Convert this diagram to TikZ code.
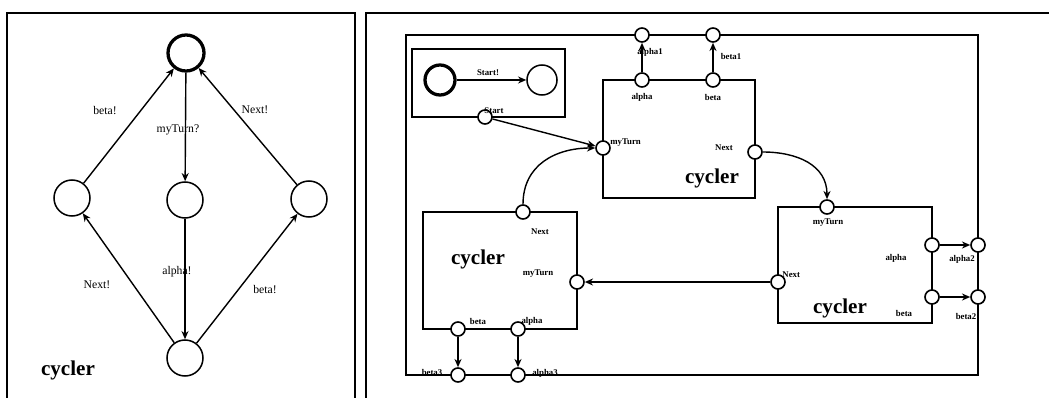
\documentclass[tikz,border=0pt]{standalone}
\usepackage{fontspec}
\setmainfont{Liberation Serif}
\usetikzlibrary{arrows.meta}

\begin{document}
\begin{tikzpicture}[
  x=0.03cm, y=-0.03cm,
  frame/.style={line width=1.6pt},
  box/.style={line width=2.2pt},
  arr/.style={-{Stealth[length=7pt,width=6pt]}, line width=1.2pt},
  state/.style={circle, draw, line width=1.3pt, minimum size=1.08cm, inner sep=0pt},
  initstate/.style={state, line width=2.8pt},
  smallstate/.style={state, minimum size=0.9cm},
  port/.style={circle, draw, fill=white, line width=1.4pt, minimum size=0.42cm, inner sep=0pt},
  edgelbl/.style={font=\fontsize{10}{11}\selectfont},
  plabel/.style={font=\fontsize{7.5}{8}\selectfont\bfseries, inner sep=1pt},
  bigname/.style={font=\fontsize{18}{20}\selectfont\bfseries}
]
\useasboundingbox (0,0) rectangle (1049,398);

% ------------------------------------------------------------
% Left panel: the cycler automaton
% ------------------------------------------------------------
\draw[frame] (7,398) -- (7,13) -- (355,13) -- (355,398);

\node[initstate] (top) at (186,53) {};
\node[state] (lft) at (72,198) {};
\node[state] (mid) at (185,200) {};
\node[state] (rgt) at (309,199) {};
\node[state] (bot) at (185,358) {};

\draw[arr] (lft) -- (top);
\draw[arr] (top) -- (mid);
\draw[arr] (rgt) -- (top);
\draw[arr] (mid) -- (bot);
\draw[arr] (bot) -- (lft);
\draw[arr] (bot) -- (rgt);

\node[edgelbl] at (105,111) {beta!};
\node[edgelbl] at (178,130) {myTurn?};
\node[edgelbl] at (255,110) {Next!};
\node[edgelbl] at (97,285) {Next!};
\node[edgelbl] at (177,272) {alpha!};
\node[edgelbl] at (265,290) {beta!};
\node[bigname] at (68,370) {cycler};

% ------------------------------------------------------------
% Right panel: three cyclers in a ring
% ------------------------------------------------------------
\draw[frame] (366,398) -- (366,13) -- (1049,13);
\draw[box] (406,35) rectangle (978,375);

% start box
\draw[box] (412,49) rectangle (565,117);
\node[initstate, minimum size=0.9cm] (s0) at (440,80) {};
\node[smallstate] (s1) at (542,80) {};
\draw[arr] (s0) -- (s1);
\node[plabel] at (488,73) {Start!};

% top cycler
\draw[box] (603,80) rectangle (755,198);
\node[bigname] at (712,178) {cycler};

% left cycler
\draw[box] (423,212) rectangle (577,329);
\node[bigname] at (478,259) {cycler};

% right cycler
\draw[box] (778,207) rectangle (932,323);
\node[bigname] at (840,308) {cycler};

% ports
\node[port] (st) at (485,117) {};
\node[port] (tA) at (642,80) {};
\node[port] (tB) at (713,80) {};
\node[port] (tM) at (603,148) {};
\node[port] (tN) at (755,152) {};
\node[port] (a1) at (642,35) {};
\node[port] (b1) at (713,35) {};

\node[port] (lN) at (523,212) {};
\node[port] (lM) at (577,282) {};
\node[port] (lB) at (458,329) {};
\node[port] (lA) at (518,329) {};
\node[port] (b3) at (458,375) {};
\node[port] (a3) at (518,375) {};

\node[port] (rM) at (827,207) {};
\node[port] (rN) at (778,282) {};
\node[port] (rA) at (932,245) {};
\node[port] (rB) at (932,297) {};
\node[port] (a2) at (978,245) {};
\node[port] (b2) at (978,297) {};

% connections
\draw[arr] (st) -- (tM);
\draw[arr] (lN) to[out=90, in=180, looseness=1.1] (tM);
\draw[arr] (tN) to[out=0, in=90, looseness=1.1] (rM);
\draw[arr] (rN) -- (lM);
\draw[arr] (tA) -- (a1);
\draw[arr] (tB) -- (b1);
\draw[arr] (lB) -- (b3);
\draw[arr] (lA) -- (a3);
\draw[arr] (rA) -- (a2);
\draw[arr] (rB) -- (b2);

% port labels
\node[plabel] at (494,111) {Start};
\node[plabel] at (642,97) {alpha};
\node[plabel] at (713,97) {beta};
\node[plabel, anchor=west] at (609,143) {myTurn};
\node[plabel] at (724,148) {Next};
\node[plabel] at (650,52) {alpha1};
\node[plabel] at (731,56) {beta1};

\node[plabel] at (540,232) {Next};
\node[plabel] at (538,274) {myTurn};
\node[plabel] at (478,321) {beta};
\node[plabel] at (532,321) {alpha};
\node[plabel] at (432,372) {beta3};
\node[plabel] at (545,373) {alpha3};

\node[plabel] at (828,223) {myTurn};
\node[plabel, anchor=west] at (781,275) {Next};
\node[plabel] at (896,258) {alpha};
\node[plabel] at (904,313) {beta};
\node[plabel] at (962,259) {alpha2};
\node[plabel] at (966,316) {beta2};

\end{tikzpicture}
\end{document}
